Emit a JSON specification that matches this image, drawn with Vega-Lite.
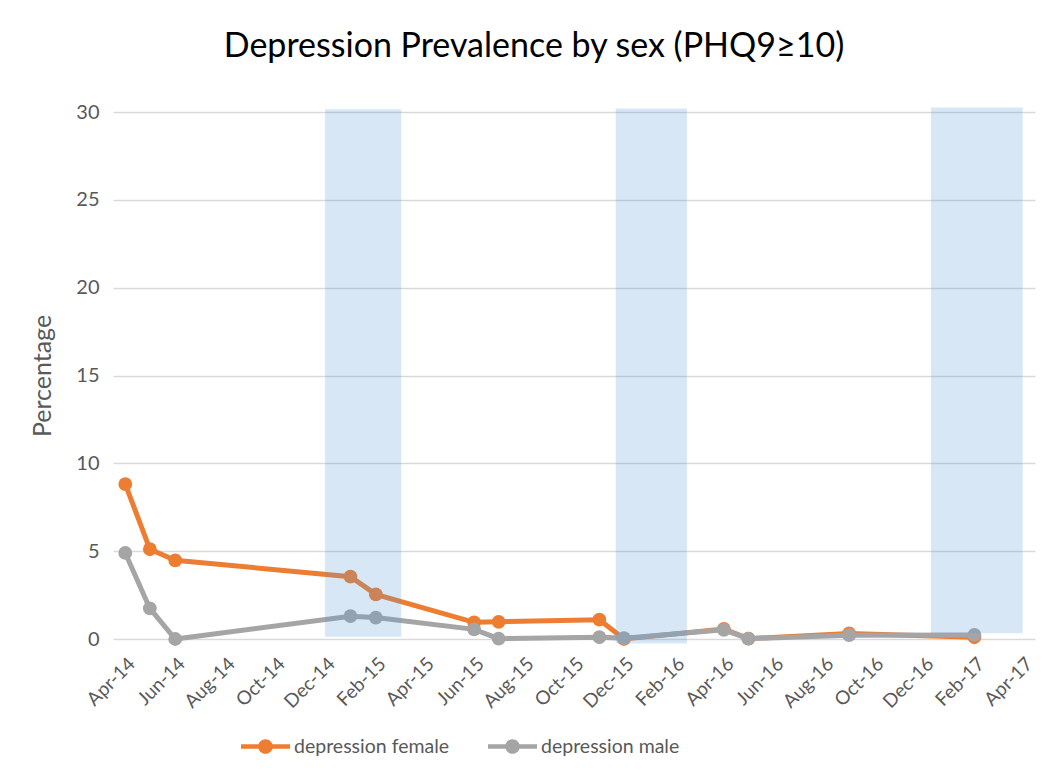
{
  "$schema": "https://vega.github.io/schema/vega-lite/v6.json",
  "width": 922,
  "height": 527,
  "autosize": {"type": "none"},
  "padding": {"left": 113, "top": 112, "right": 16, "bottom": 132},
  "background": "white",
  "config": {"font": "Lato", "view": {"stroke": null}},
  "title": {
    "text": "Depression Prevalence by sex (PHQ9≥10)",
    "fontSize": 34,
    "fontWeight": "normal",
    "color": "#000000",
    "font": "Lato",
    "anchor": "middle",
    "frame": "group",
    "offset": 11,
    "dx": -40,
    "baseline": "alphabetic"
  },
  "datasets": {
    "series": [
      {"date": "2014-04-01", "value": 8.82, "series": "depression female"},
      {"date": "2014-05-01", "value": 5.11, "series": "depression female"},
      {"date": "2014-06-01", "value": 4.48, "series": "depression female"},
      {"date": "2015-01-01", "value": 3.55, "series": "depression female"},
      {"date": "2015-02-01", "value": 2.54, "series": "depression female"},
      {"date": "2015-06-01", "value": 0.95, "series": "depression female"},
      {"date": "2015-07-01", "value": 0.98, "series": "depression female"},
      {"date": "2015-11-01", "value": 1.1, "series": "depression female"},
      {"date": "2015-12-01", "value": 0.0, "series": "depression female"},
      {"date": "2016-04-01", "value": 0.57, "series": "depression female"},
      {"date": "2016-05-01", "value": 0.02, "series": "depression female"},
      {"date": "2016-09-01", "value": 0.32, "series": "depression female"},
      {"date": "2017-02-01", "value": 0.1, "series": "depression female"},
      {"date": "2014-04-01", "value": 4.9, "series": "depression male"},
      {"date": "2014-05-01", "value": 1.74, "series": "depression male"},
      {"date": "2014-06-01", "value": 0.0, "series": "depression male"},
      {"date": "2015-01-01", "value": 1.3, "series": "depression male"},
      {"date": "2015-02-01", "value": 1.22, "series": "depression male"},
      {"date": "2015-06-01", "value": 0.55, "series": "depression male"},
      {"date": "2015-07-01", "value": 0.02, "series": "depression male"},
      {"date": "2015-11-01", "value": 0.1, "series": "depression male"},
      {"date": "2015-12-01", "value": 0.05, "series": "depression male"},
      {"date": "2016-04-01", "value": 0.52, "series": "depression male"},
      {"date": "2016-05-01", "value": 0.02, "series": "depression male"},
      {"date": "2016-09-01", "value": 0.22, "series": "depression male"},
      {"date": "2017-02-01", "value": 0.23, "series": "depression male"}
    ],
    "bands": [
      {"date": "2014-12-01", "end": "2015-03-04", "value": 0.13, "hi": 30.15},
      {"date": "2015-11-21", "end": "2016-02-16", "value": -0.25, "hi": 30.2},
      {"date": "2016-12-10", "end": "2017-04-01", "value": 0.33, "hi": 30.25}
    ]
  },
  "encoding": {
    "x": {
      "field": "date",
      "type": "temporal",
      "scale": {
        "type": "utc",
        "domain": [
          {"year": 2014, "month": 3, "date": 17, "utc": true},
          {"year": 2017, "month": 4, "date": 16, "utc": true}
        ]
      },
      "axis": {
        "values": [
          {"year": 2014, "month": 4, "date": 1, "utc": true},
          {"year": 2014, "month": 6, "date": 1, "utc": true},
          {"year": 2014, "month": 8, "date": 1, "utc": true},
          {"year": 2014, "month": 10, "date": 1, "utc": true},
          {"year": 2014, "month": 12, "date": 1, "utc": true},
          {"year": 2015, "month": 2, "date": 1, "utc": true},
          {"year": 2015, "month": 4, "date": 1, "utc": true},
          {"year": 2015, "month": 6, "date": 1, "utc": true},
          {"year": 2015, "month": 8, "date": 1, "utc": true},
          {"year": 2015, "month": 10, "date": 1, "utc": true},
          {"year": 2015, "month": 12, "date": 1, "utc": true},
          {"year": 2016, "month": 2, "date": 1, "utc": true},
          {"year": 2016, "month": 4, "date": 1, "utc": true},
          {"year": 2016, "month": 6, "date": 1, "utc": true},
          {"year": 2016, "month": 8, "date": 1, "utc": true},
          {"year": 2016, "month": 10, "date": 1, "utc": true},
          {"year": 2016, "month": 12, "date": 1, "utc": true},
          {"year": 2017, "month": 2, "date": 1, "utc": true},
          {"year": 2017, "month": 4, "date": 1, "utc": true}
        ],
        "format": "%b-%y",
        "labelAngle": -45,
        "labelAlign": "right",
        "labelBaseline": "top",
        "grid": false,
        "ticks": false,
        "domain": false,
        "labelFontSize": 19,
        "labelColor": "#595959",
        "labelPadding": 15,
        "labelOffset": 0,
        "labelOverlap": false,
        "labelFlush": false,
        "labelBound": false,
        "title": null
      }
    },
    "y": {
      "field": "value",
      "type": "quantitative",
      "scale": {"domain": [0, 30], "nice": false, "zero": false},
      "axis": {
        "values": [0, 5, 10, 15, 20, 25, 30],
        "grid": true,
        "gridColor": "#D9D9D9",
        "gridWidth": 1.3,
        "domain": false,
        "ticks": false,
        "labelFontSize": 20,
        "labelColor": "#595959",
        "labelPadding": 14,
        "title": "Percentage",
        "titleFontSize": 25,
        "titleColor": "#595959",
        "titleFontWeight": "normal",
        "titlePadding": 20
      }
    }
  },
  "layer": [
    {
      "data": {"name": "series"},
      "transform": [{"filter": "datum.series === 'depression female'"}],
      "mark": {"type": "line", "strokeWidth": 5, "point": {"filled": true, "size": 190}},
      "encoding": {
        "color": {
          "field": "series",
          "type": "nominal",
          "scale": {"domain": ["depression female", "depression male"], "range": ["#ED7D31", "#A5A5A5"]},
          "legend": {
            "orient": "none",
            "legendX": 128,
            "legendY": 610,
            "direction": "horizontal",
            "title": null,
            "symbolType": "M-1,-0.095L1,-0.095L1,0.095L-1,0.095Z M0.3,0A0.3,0.3 0 1,1 -0.3,0A0.3,0.3 0 1,1 0.3,0Z",
            "symbolSize": 2401,
            "symbolStrokeWidth": 0,
            "labelFontSize": 19.5,
            "labelColor": "#595959",
            "labelOffset": 4,
            "columnPadding": 38,
            "encode": {
              "symbols": {
                "update": {
                  "fill": {"scale": "color", "field": "value"},
                  "stroke": {"value": "transparent"},
                  "opacity": {"value": 1}
                }
              }
            }
          }
        }
      }
    },
    {
      "data": {"name": "series"},
      "transform": [{"filter": "datum.series === 'depression male'"}],
      "mark": {"type": "line", "strokeWidth": 5, "point": {"filled": true, "size": 190}},
      "encoding": {
        "color": {"field": "series", "type": "nominal"}
      }
    },
    {
      "data": {"name": "bands"},
      "mark": {"type": "rect", "fill": "#5B9BD5", "opacity": 0.24},
      "encoding": {
        "x2": {"field": "end"},
        "y2": {"field": "hi"}
      }
    }
  ]
}
